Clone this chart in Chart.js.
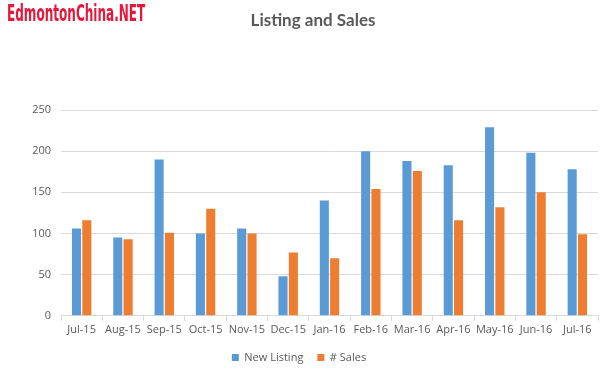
<!DOCTYPE html>
<html>
<head>
<meta charset="utf-8">
<script src="https://cdn.jsdelivr.net/npm/chart.js@4/dist/chart.umd.min.js"></script>
<style>
  html, body { margin: 0; padding: 0; background: #fff; }
  #wrap { position: relative; width: 600px; height: 377px; }
  #brand {
    position: absolute; left: 7px; top: 0px;
    font-family: "DejaVu Sans Condensed", "DejaVu Sans", sans-serif;
    font-weight: bold; font-size: 23px; color: #e5173a;
    transform-origin: 0 0; white-space: nowrap;
  }
  #chart_title {
    position: absolute; left: 213px; width: 200px; top: 9px; text-align: center;
    font-family: Lato, sans-serif; font-weight: bold; font-size: 17px; color: #595959;
  }
</style>
</head>
<body>
<div id="wrap">
  <canvas id="listing_chart" width="600" height="377"></canvas>
  <div id="brand">EdmontonChina.NET</div>
  <div id="chart_title">Listing and Sales</div>
</div>
<script>
// monthly data
const month_labels   = ['Jul-15','Aug-15','Sep-15','Oct-15','Nov-15','Dec-15','Jan-16','Feb-16','Mar-16','Apr-16','May-16','Jun-16','Jul-16']
const new_listing    = [106, 95, 190, 100, 106, 48, 140, 200, 188, 183, 229, 198, 178]
const sales_count    = [116, 93, 101, 130, 100, 77, 70, 154, 176, 116, 132, 150, 99]

const text_grey = '#595959'
const grid_grey = '#d9d9d9'

// squeeze the brand text to the narrow width it has in the picture
const brand = document.getElementById('brand')
brand.style.transform = 'scaleX(' + (138 / brand.offsetWidth) + ')'

const ctx = document.getElementById('listing_chart').getContext('2d');

new Chart(ctx, {
  type: 'bar',
  data: {
    labels: month_labels,
    datasets: [
      {
        label: 'New Listing',
        data: new_listing,
        backgroundColor: '#5b9bd5',
        categoryPercentage: 0.5,
        barPercentage: 0.88
      },
      {
        label: '# Sales',
        data: sales_count,
        backgroundColor: '#ed7d31',
        categoryPercentage: 0.5,
        barPercentage: 0.88
      }
    ]
  },
  options: {
    responsive: false,
    animation: false,
    layout: { padding: { top: 110, right: 2, left: 0, bottom: 4 } },
    plugins: {
      title: { display: false },
      legend: {
        position: 'bottom',
        labels: {
          color: text_grey,
          font: { family: 'Open Sans', size: 11 },
          boxWidth: 7,
          boxHeight: 7,
          padding: 14
        }
      },
      tooltip: { enabled: false }
    },
    scales: {
      x: {
        grid: {
          offset: true,
          drawOnChartArea: false,
          drawTicks: true,
          tickLength: 5,
          color: grid_grey
        },
        border: { color: grid_grey },
        ticks: {
          color: text_grey,
          font: { family: 'Open Sans', size: 11 },
          maxRotation: 0,
          autoSkip: false,
          padding: 2
        }
      },
      y: {
        min: 0,
        max: 250,
        afterFit: function (scale) { scale.width = 61 },
        grid: { color: grid_grey, drawTicks: false },
        border: { display: false },
        ticks: {
          stepSize: 50,
          color: text_grey,
          font: { family: 'Open Sans', size: 11 },
          padding: 10
        }
      }
    }
  }
});
</script>
</body>
</html>
